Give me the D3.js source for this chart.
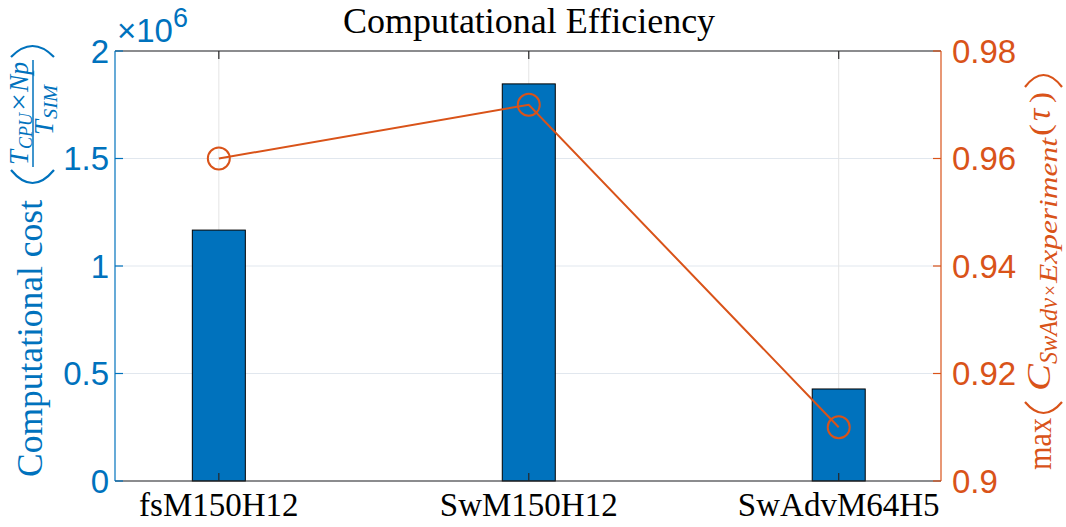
<!DOCTYPE html>
<html>
<head>
<meta charset="utf-8">
<script src="https://cdn.jsdelivr.net/npm/d3@7"></script>
<style>
  html, body { margin: 0; padding: 0; background: #fff; }
  svg { display: block; }
</style>
</head>
<body>
<svg id="chart" width="1066" height="527"></svg>
<script>
// Simulation configurations and their measured results
const categories = ["fsM150H12", "SwM150H12", "SwAdvM64H5"];
const costValues = [1.167e6, 1.847e6, 0.428e6];      // left axis, bars
const maxCorrValues = [0.96, 0.97, 0.91];           // right axis, line
const leftTicks = [0, 0.5, 1, 1.5, 2];              // in units of 1e6
const rightTicks = [0.9, 0.92, 0.94, 0.96, 0.98];

const BLUE = "#0072BD";
const ORANGE = "#D95319";
const AXIS = "#262626";

const plot = { left: 115, right: 941, top: 51, bottom: 481 };
const svg = d3.select("#chart");

// Scales
const x = d3.scaleLinear().domain([0.665, 3.33]).range([plot.left, plot.right]);
const yL = d3.scaleLinear().domain([0, 2e6]).range([plot.bottom, plot.top]);
const yR = d3.scaleLinear().domain([0.9, 0.98]).range([plot.bottom, plot.top]);
const idx = categories.map((c, i) => i + 1);
const barWidthPx = 53;
const tickLen = 8;

// Grid
const grid = svg.append("g");
grid.selectAll("line.hg").data(leftTicks).join("line")
  .attr("x1", plot.left).attr("x2", plot.right)
  .attr("y1", d => yL(d * 1e6)).attr("y2", d => yL(d * 1e6))
  .attr("stroke", "#e1e7ee").attr("stroke-width", 1);
grid.selectAll("line.vg").data(idx).join("line")
  .attr("x1", d => x(d)).attr("x2", d => x(d))
  .attr("y1", plot.top).attr("y2", plot.bottom)
  .attr("stroke", "#e4e4e4").attr("stroke-width", 1);

// Bars
svg.append("g").selectAll("rect").data(costValues).join("rect")
  .attr("x", (d, i) => x(idx[i]) - barWidthPx / 2)
  .attr("width", barWidthPx)
  .attr("y", d => yL(d))
  .attr("height", d => yL(0) - yL(d))
  .attr("fill", BLUE)
  .attr("stroke", "#000").attr("stroke-width", 1);

// Axes box
const ax = svg.append("g").attr("fill", "none");
ax.append("line").attr("x1", plot.left).attr("x2", plot.right)
  .attr("y1", plot.bottom).attr("y2", plot.bottom).attr("stroke", AXIS).attr("stroke-width", 1.2);
ax.append("line").attr("x1", plot.left).attr("x2", plot.right)
  .attr("y1", plot.top).attr("y2", plot.top).attr("stroke", AXIS).attr("stroke-width", 1.2);
ax.selectAll("line.bt").data(idx).join("line")
  .attr("x1", d => x(d)).attr("x2", d => x(d))
  .attr("y1", plot.bottom).attr("y2", plot.bottom - tickLen)
  .attr("stroke", AXIS).attr("stroke-width", 1.2);
ax.selectAll("line.tt").data(idx).join("line")
  .attr("x1", d => x(d)).attr("x2", d => x(d))
  .attr("y1", plot.top).attr("y2", plot.top + tickLen)
  .attr("stroke", AXIS).attr("stroke-width", 1.2);
ax.append("line").attr("x1", plot.left).attr("x2", plot.left)
  .attr("y1", plot.top).attr("y2", plot.bottom).attr("stroke", BLUE).attr("stroke-width", 1.2);
ax.selectAll("line.lt").data(leftTicks).join("line")
  .attr("x1", plot.left).attr("x2", plot.left + tickLen)
  .attr("y1", d => yL(d * 1e6)).attr("y2", d => yL(d * 1e6))
  .attr("stroke", BLUE).attr("stroke-width", 1.2);
ax.append("line").attr("x1", plot.right).attr("x2", plot.right)
  .attr("y1", plot.top).attr("y2", plot.bottom).attr("stroke", ORANGE).attr("stroke-width", 1.2);
ax.selectAll("line.rt").data(rightTicks).join("line")
  .attr("x1", plot.right).attr("x2", plot.right - tickLen)
  .attr("y1", d => yR(d)).attr("y2", d => yR(d))
  .attr("stroke", ORANGE).attr("stroke-width", 1.2);

// Line with circle markers
const line = d3.line().x((d, i) => x(idx[i])).y(d => yR(d));
svg.append("path").datum(maxCorrValues)
  .attr("d", line).attr("fill", "none")
  .attr("stroke", ORANGE).attr("stroke-width", 2);
svg.append("g").selectAll("circle").data(maxCorrValues).join("circle")
  .attr("cx", (d, i) => x(idx[i])).attr("cy", d => yR(d))
  .attr("r", 11).attr("fill", "none")
  .attr("stroke", ORANGE).attr("stroke-width", 2);

// Tick labels
const sans = "'Liberation Sans', Arial, sans-serif";
const serif = "'Liberation Serif', 'Times New Roman', serif";
svg.append("g").selectAll("text").data(leftTicks).join("text")
  .attr("x", 109).attr("y", d => yL(d * 1e6)).attr("dy", "0.36em")
  .attr("text-anchor", "end").attr("font-family", sans).attr("font-size", 33)
  .attr("fill", BLUE).text(d => d3.format("~g")(d));
svg.append("g").selectAll("text").data(rightTicks).join("text")
  .attr("x", 952).attr("y", d => yR(d)).attr("dy", "0.36em")
  .attr("text-anchor", "start").attr("font-family", sans).attr("font-size", 33)
  .attr("fill", ORANGE).text(d => d3.format("~g")(d));
svg.append("g").selectAll("text").data(categories).join("text")
  .attr("x", (d, i) => x(idx[i])).attr("y", 516)
  .attr("text-anchor", "middle").attr("font-family", serif).attr("font-size", 33)
  .attr("fill", "#000").text(d => d);

// Exponent label
const ex = svg.append("text").attr("x", 117).attr("y", 42)
  .attr("font-family", sans).attr("font-size", 33).attr("fill", BLUE);
ex.append("tspan").text("\u00d710");
ex.append("tspan").attr("font-size", 27).attr("dy", -15).text("6");

// Title
svg.append("text").attr("x", 529).attr("y", 33)
  .attr("text-anchor", "middle").attr("font-family", serif).attr("font-size", 36)
  .attr("fill", "#000").text("Computational Efficiency");

// Rotated labels use local coordinates (lx, ly) = (-screenY, screenX)
function paren(g, x0, bulge, y1, y2, color) {
  const ym = (y1 + y2) / 2;
  g.append("path")
    .attr("d", `M${x0},${y1} Q${2 * bulge - x0},${ym} ${x0},${y2}`)
    .attr("fill", "none").attr("stroke", color).attr("stroke-width", 2.2);
}
// Places a text piece spanning screen y from yStart (bottom) to yEnd (top)
function piece(g, str, yStart, yEnd, baseX, size, italic) {
  const t = g.append("text")
    .attr("x", -yStart).attr("y", baseX)
    .attr("font-family", serif).attr("font-size", size)
    .attr("font-style", italic ? "italic" : "normal")
    .text(str);
  if (yEnd != null) t.attr("textLength", yStart - yEnd).attr("lengthAdjust", "spacingAndGlyphs");
  return t;
}

// Left axis label
const gl = svg.append("g").attr("transform", "rotate(-90)").attr("fill", BLUE);
piece(gl, "Computational cost", 477, 200, 42, 35, false);
paren(gl, -170, -183, 11, 54, BLUE);
paren(gl, -57, -46, 11, 54, BLUE);
piece(gl, "T", 165, 150, 28, 27, true);
piece(gl, "CPU", 149, 113, 32, 19, true);
piece(gl, "\u00d7", 111, 93, 28, 27, false);
piece(gl, "Np", 92, 62, 28, 27, true);
gl.append("line").attr("x1", -167).attr("x2", -60).attr("y1", 33).attr("y2", 33)
  .attr("stroke", BLUE).attr("stroke-width", 1.5);
piece(gl, "T", 135, 120, 53, 27, true);
piece(gl, "SIM", 119, 85, 57, 19, true);

// Right axis label
const gr = svg.append("g").attr("transform", "rotate(-90)").attr("fill", ORANGE);
piece(gr, "max", 470, 418, 1051, 33, false);
paren(gr, -402, -413, 1025, 1062, ORANGE);
piece(gr, "C", 391, 364, 1050, 33, true);
piece(gr, "SwAdv", 364, 298, 1057, 25, true);
piece(gr, "\u00d7", 296, 285, 1057, 22, false);
piece(gr, "Experiment", 283, 138, 1057, 25, true);
piece(gr, "(", 136, 124, 1050, 30, false);
piece(gr, "\u03c4", 121, null, 1050, 34, true);
piece(gr, ")", 103, 92, 1050, 30, false);
paren(gr, -87, -75, 1025, 1062, ORANGE);
</script>
</body>
</html>
